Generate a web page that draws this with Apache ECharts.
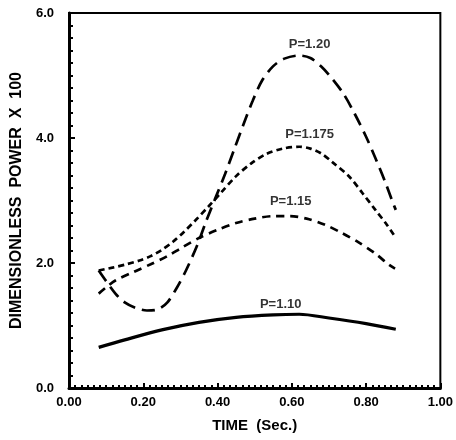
<!DOCTYPE html>
<html>
<head>
<meta charset="utf-8">
<script src="https://cdn.jsdelivr.net/npm/echarts@6/dist/echarts.min.js"></script>
<style>html,body{margin:0;padding:0;background:#fff}#c{width:456px;height:440px}</style>
</head>
<body>
<div id="c"></div>
<script>
// Data
var xTicks = [0.00, 0.20, 0.40, 0.60, 0.80, 1.00];
var yTicks = [0.0, 2.0, 4.0, 6.0];
var xTitle = 'TIME  (Sec.)';
var yTitle = 'DIMENSIONLESS  POWER  X  100';

var p120 = [[0.08,1.88],[0.10,1.71],[0.125,1.51],[0.15,1.37],[0.18,1.28],[0.21,1.24],[0.24,1.26],[0.265,1.37],[0.29,1.60],[0.315,1.88],[0.345,2.28],[0.37,2.68],[0.395,3.05],[0.42,3.42],[0.445,3.82],[0.47,4.22],[0.495,4.60],[0.52,4.92],[0.55,5.15],[0.58,5.27],[0.62,5.32],[0.65,5.28],[0.68,5.14],[0.71,4.94],[0.74,4.70],[0.77,4.38],[0.80,4.02],[0.825,3.68],[0.85,3.32],[0.87,3.00],[0.88,2.85]];
var p1175 = [[0.08,1.88],[0.12,1.93],[0.155,1.98],[0.19,2.04],[0.22,2.11],[0.25,2.21],[0.28,2.34],[0.31,2.50],[0.34,2.68],[0.375,2.90],[0.41,3.13],[0.45,3.39],[0.49,3.59],[0.53,3.74],[0.575,3.83],[0.62,3.86],[0.65,3.83],[0.68,3.75],[0.71,3.61],[0.755,3.38],[0.79,3.12],[0.825,2.85],[0.855,2.62],[0.878,2.42]];
var p115 = [[0.08,1.51],[0.10,1.61],[0.125,1.72],[0.175,1.86],[0.22,1.98],[0.265,2.11],[0.305,2.25],[0.35,2.40],[0.40,2.53],[0.45,2.64],[0.50,2.71],[0.55,2.75],[0.595,2.75],[0.64,2.71],[0.69,2.61],[0.735,2.48],[0.78,2.33],[0.825,2.15],[0.862,1.97],[0.878,1.91]];
var p110 = [[0.08,0.65],[0.15,0.77],[0.25,0.93],[0.35,1.05],[0.45,1.13],[0.55,1.17],[0.62,1.18],[0.70,1.12],[0.80,1.03],[0.88,0.94]];

var curveNames = ['P=1.20', 'P=1.175', 'P=1.15', 'P=1.10'];
var labelPos = [[0.648,5.49],[0.648,4.06],[0.597,2.98],[0.57,1.33]];

var chart = echarts.init(document.getElementById('c'));
var font = 'Liberation Sans, Arial, sans-serif';
function lineSeries(name, data, type, width) {
  return {
    name: name, type: 'line', data: data, showSymbol: false, smooth: 0.3,
    lineStyle: { color: '#000', width: width, type: type, cap: 'butt' },
    silent: true, z: 3
  };
}
var series = [
  lineSeries(curveNames[0], p120, [13, 7], 2.7),
  lineSeries(curveNames[1], p1175, [6, 4], 2.7),
  lineSeries(curveNames[2], p115, [8, 6], 2.7),
  lineSeries(curveNames[3], p110, 'solid', 3.2),
  {
    type: 'scatter', symbolSize: 0, silent: true, z: 4,
    data: labelPos.map(function (p, i) { return { value: p, name: curveNames[i] }; }),
    label: {
      show: true, position: 'inside', formatter: '{b}',
      color: '#000', fontFamily: font, fontWeight: 'bold', fontSize: 13
    }
  }
];

chart.setOption({
  animation: false,
  backgroundColor: '#fff',
  grid: { left: 69, right: 15, top: 13, bottom: 52, show: true, borderColor: '#000', borderWidth: 2, backgroundColor: 'transparent' },
  xAxis: {
    type: 'value', min: xTicks[0], max: xTicks[xTicks.length - 1], interval: 0.2,
    name: xTitle, nameLocation: 'middle', nameGap: 30,
    nameTextStyle: { color: '#000', fontFamily: font, fontWeight: 'bold', fontSize: 15 },
    axisLine: { lineStyle: { color: '#000', width: 3 } },
    axisTick: { inside: true, length: 5, lineStyle: { color: '#000', width: 2 } },
    minorTick: { show: true, splitNumber: 12, length: 3, lineStyle: { color: '#000', width: 2 } },
    splitLine: { show: false },
    axisLabel: { color: '#000', fontFamily: font, fontWeight: 'bold', fontSize: 13, margin: 8,
      formatter: function (v) { return v.toFixed(2); } }
  },
  yAxis: {
    type: 'value', min: yTicks[0], max: yTicks[yTicks.length - 1], interval: 2,
    name: yTitle, nameLocation: 'middle', nameGap: 44, nameRotate: 90,
    nameTextStyle: { color: '#000', fontFamily: font, fontWeight: 'bold', fontSize: 16 },
    axisLine: { lineStyle: { color: '#000', width: 3 } },
    axisTick: { inside: true, length: 6, lineStyle: { color: '#000', width: 2 } },
    minorTick: { show: true, splitNumber: 10, length: 4, lineStyle: { color: '#000', width: 2 } },
    splitLine: { show: false },
    axisLabel: { color: '#000', fontFamily: font, fontWeight: 'bold', fontSize: 13, margin: 15,
      formatter: function (v) { return v.toFixed(1); } }
  },
  series: series
});
</script>
</body>
</html>
